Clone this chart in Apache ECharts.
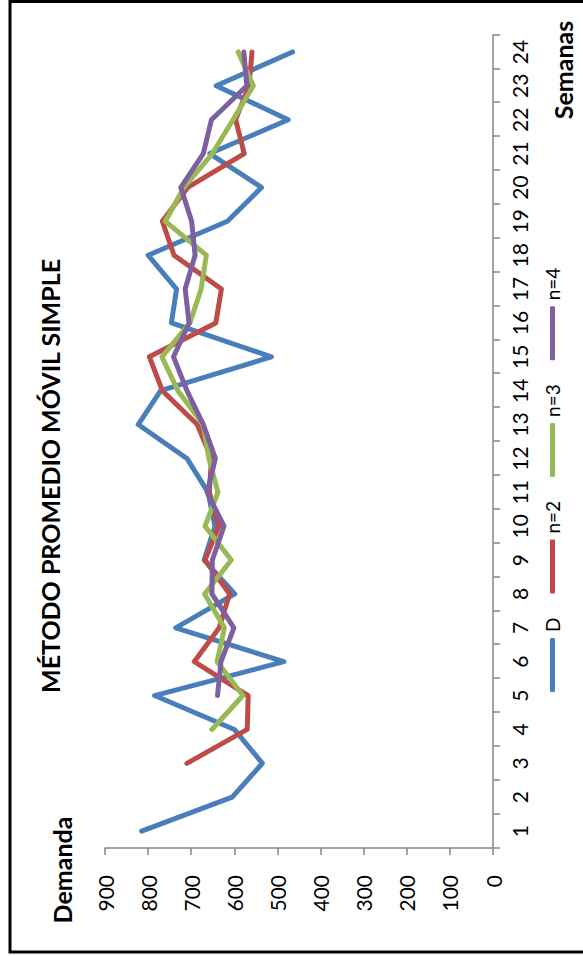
<!DOCTYPE html>
<html>
<head>
<meta charset="utf-8">
<script src="https://cdn.jsdelivr.net/npm/echarts@6/dist/echarts.min.js"></script>
<style>
html,body{margin:0;padding:0;background:#fff;overflow:hidden;width:583px;height:956px;}
#wrap{position:absolute;left:0;top:0;width:956px;height:583px;transform-origin:0 0;transform:translate(0px,956px) rotate(-90deg);}
#chart{width:956px;height:583px;}
</style>
</head>
<body>
<div id="wrap"><div id="chart"></div></div>
<script>
// ---- data ----
const chartTitle = 'MÉTODO PROMEDIO MÓVIL SIMPLE';
const xAxisTitle = 'Semanas';
const yAxisTitle = 'Demanda';
const weeks = ['1','2','3','4','5','6','7','8','9','10','11','12','13','14','15','16','17','18','19','20','21','22','23','24'];
const seriesNames = ['D','n=2','n=3','n=4'];
const demandD = [815,605,535,600,785,485,736,599,670,645,661,710,823,771,514,746,734,800,616,537,657,475,642,465];
const movingN2 = [null,null,710,570,568,693,635,611,668,636,658,653,686,767,797,643,630,740,767,708,577,597,566,559];
const movingN3 = [null,null,null,652,580,640,623,669,607,668,638,659,672,731,768,703,677,665,760,717,651,603,556,591];
const movingN4 = [null,null,null,null,639,631,601,652,651,624,663,644,672,710,741,705,714,691,699,724,672,653,571,578];
const valueMin = 0, valueMax = 900, valueStep = 100;

// ---- styles ----
const colors = ['#4A7EBB','#BE4B48','#98B954','#7D60A0'];
const FONT = 'Lato, "Open Sans", sans-serif';
const axisGrey = '#868686';

const chart = echarts.init(document.getElementById('chart'), null, {renderer:'svg', width:956, height:583});

const seriesData = [demandD, movingN2, movingN3, movingN4];
const series = seriesData.map((d,i)=>({
  name: seriesNames[i],
  type: 'line',
  data: d,
  showSymbol: false,
  symbol: 'none',
  smooth: false,
  connectNulls: false,
  color: colors[i],
  itemStyle: {color: colors[i]},
  lineStyle: {color: colors[i], width: 5, cap: 'round', join: 'round'},
  emphasis: {disabled: true},
  animation: false
}));

chart.setOption({
  animation: false,
  backgroundColor: '#fff',
  title: {
    text: chartTitle,
    left: 480, top: 37, textAlign: 'center', padding: 0,
    textStyle: {fontFamily: FONT, fontWeight: 'bold', fontSize: 25, color: '#000'}
  },
  legend: {
    data: seriesNames,
    orient: 'horizontal',
    left: 264, top: 543,
    itemWidth: 54, itemHeight: 5, itemGap: 24,
    icon: 'roundRect',
    padding: 0,
    textStyle: {fontFamily: FONT, fontSize: 19, color: '#000', padding:[0,0,0,1]}
  },
  grid: {left: 108, right: 35, top: 105, bottom: 90, containLabel: false},
  xAxis: {
    type: 'category',
    data: weeks,
    boundaryGap: true,
    axisLine: {show: true, lineStyle: {color: axisGrey, width: 1.5}},
    axisTick: {show: true, length: 7, alignWithLabel: false, interval: 0, lineStyle: {color: axisGrey, width: 1.5}},
    axisLabel: {interval: 0, margin: 16, fontFamily: FONT, fontSize: 21, color: '#000'},
    splitLine: {show: false}
  },
  yAxis: {
    type: 'value',
    min: valueMin, max: valueMax, interval: valueStep,
    axisLine: {show: true, lineStyle: {color: axisGrey, width: 1.5}},
    axisTick: {show: true, length: 7, lineStyle: {color: axisGrey, width: 1.5}},
    axisLabel: {margin: 27, fontFamily: FONT, fontSize: 21, color: '#000'},
    splitLine: {show: false}
  },
  graphic: [
    {type:'rect', silent:true, shape:{x:4, y:10, width:950.5, height:580}, style:{fill:'none', stroke:'#000', lineWidth:3}},
    {type:'text', silent:true, x:86, y:62, style:{text: yAxisTitle, fontFamily: FONT, fontWeight:'bold', fontSize:25, fill:'#000', align:'center', verticalAlign:'middle'}},
    {type:'text', silent:true, x:886, y:563, style:{text: xAxisTitle, fontFamily: FONT, fontWeight:'bold', fontSize:25, fill:'#000', align:'center', verticalAlign:'middle'}}
  ],
  series: series
});
</script>
</body>
</html>
